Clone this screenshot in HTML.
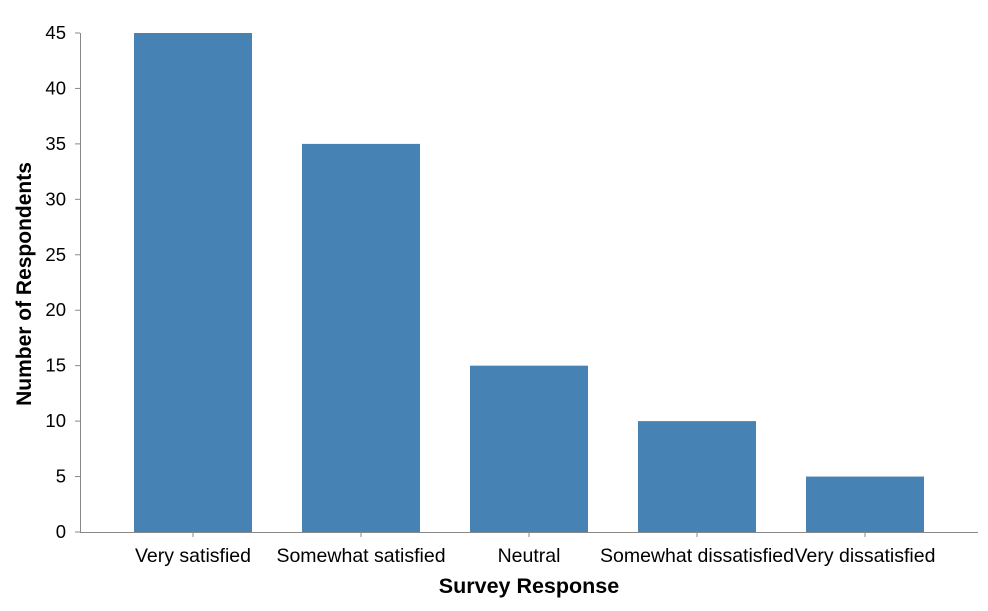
<!DOCTYPE html>
<html><head><meta charset="utf-8"><style>
body{margin:0;background:#fff;font-family:"Liberation Sans",Arial,sans-serif}
</style></head><body>
<svg width="988" height="606" xmlns="http://www.w3.org/2000/svg">
<g id="chart"></g>
</svg>
<script>
const categories=["Very satisfied","Somewhat satisfied","Neutral","Somewhat dissatisfied","Very dissatisfied"];
const values=[45,35,15,10,5];
const yTicks=[0,5,10,15,20,25,30,35,40,45];
const X0=80,X1=978,Y0=532,Y1=33,yMax=45;
const stepPx=168,outer=54,bw=118;
function xPos(i){return X0+outer+i*stepPx;}
function yPos(v){return Y0-(v/yMax)*(Y0-Y1);}
const g=document.getElementById('chart');
const NS="http://www.w3.org/2000/svg";
function mk(t,a){const e=document.createElementNS(NS,t);for(const k in a)e.setAttribute(k,a[k]);g.appendChild(e);return e;}
yTicks.forEach(t=>{
  const y=yPos(t);
  const l=mk('line',{x1:X0-5,x2:X0,y1:y,y2:y,stroke:'#888'});
  
  
  const tx=mk('text',{x:X0-14,y:y+6,'text-anchor':'end','font-size':18.5,fill:'#000'});
  tx.textContent=t;
  
  
});
values.forEach((v,i)=>{
  const r=mk('rect',{x:xPos(i),y:yPos(v),width:bw,height:Y0-yPos(v),fill:'#4682b4'});
  
  
  const c=xPos(i)+bw/2;
  const l=mk('line',{x1:c,x2:c,y1:Y0,y2:Y0+5,stroke:'#888'});
  
  
  const tx=mk('text',{x:c,y:Y0+30,'text-anchor':'middle','font-size':19.5,fill:'#000'});
  tx.textContent=categories[i];
  
  
});
const ya=mk('line',{x1:X0+0.5,x2:X0+0.5,y1:Y1,y2:Y0,stroke:'#888'});


const xa=mk('line',{x1:X0,x2:X1,y1:Y0+0.5,y2:Y0+0.5,stroke:'#888'});


const xt=mk('text',{x:529,y:593,'text-anchor':'middle','font-size':21.5,'font-weight':'bold'});
xt.textContent='Survey Response';


const yt=mk('text',{x:0,y:0,'text-anchor':'middle','font-size':21,'font-weight':'bold',transform:'translate(31,284) rotate(-90)'});
yt.textContent='Number of Respondents';


</script>
</body></html>
